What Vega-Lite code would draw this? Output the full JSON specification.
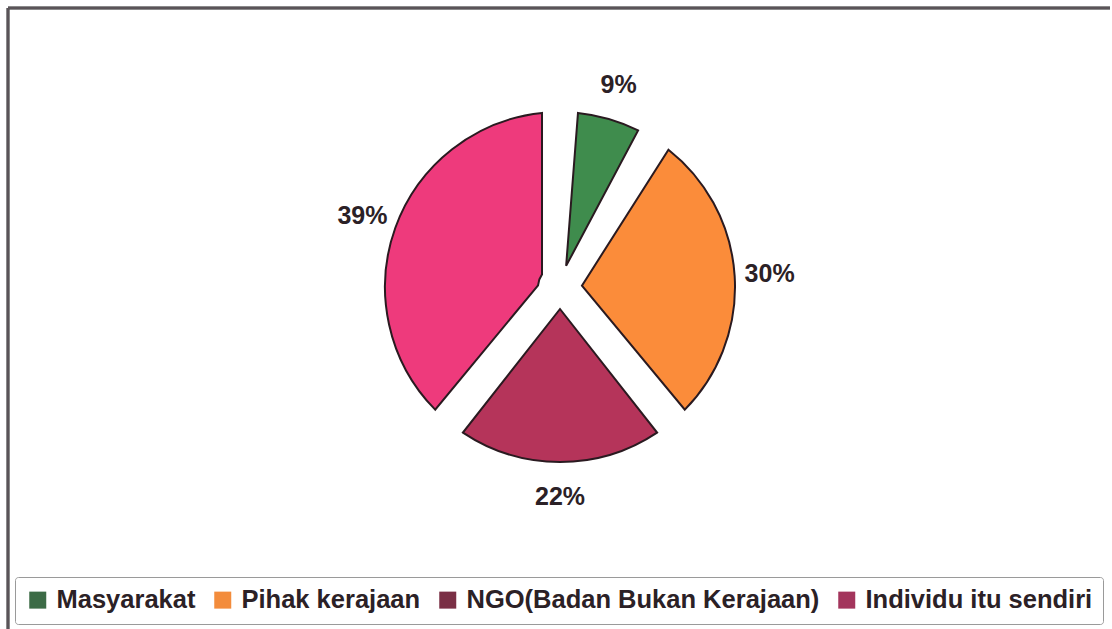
{
  "$schema": "https://vega.github.io/schema/vega-lite/v6.json",
  "width": 1104,
  "height": 558,
  "padding": {"left": 6, "top": 6, "right": 2, "bottom": 0},
  "background": "white",
  "config": {"view": {"stroke": null}},
  "data": {
    "values": [
      {"kategori": "Masyarakat", "nilai": 9, "label": "9%", "urutan": 1},
      {"kategori": "Pihak kerajaan", "nilai": 30, "label": "30%", "urutan": 2},
      {"kategori": "NGO(Badan Bukan Kerajaan)", "nilai": 22, "label": "22%", "urutan": 3},
      {"kategori": "Individu itu sendiri", "nilai": 39, "label": "39%", "urutan": 4}
    ]
  },
  "resolve": {"scale": {"color": "independent"}, "legend": {"color": "independent"}},
  "layer": [
    {
      "mark": {"type": "rule", "stroke": "#5a5458", "strokeWidth": 2.5},
      "encoding": {"x": {"value": 0}, "x2": {"value": 1102}, "y": {"value": 0}}
    },
    {
      "mark": {"type": "rule", "stroke": "#5a5458", "strokeWidth": 2.5},
      "encoding": {"x": {"value": 0}, "y": {"value": 0}, "y2": {"value": 623}}
    },
    {
      "mark": {"type": "arc", "outerRadius": 175, "innerRadius": 22, "padAngle": 0.2044, "stroke": "#2a1a20", "strokeWidth": 2},
      "encoding": {
        "theta": {"field": "nilai", "type": "quantitative", "stack": true},
        "order": {"field": "urutan", "type": "quantitative"},
        "color": {
          "field": "kategori",
          "type": "nominal",
          "sort": ["Masyarakat", "Pihak kerajaan", "NGO(Badan Bukan Kerajaan)", "Individu itu sendiri"],
          "scale": {
            "domain": ["Masyarakat", "Pihak kerajaan", "NGO(Badan Bukan Kerajaan)", "Individu itu sendiri"],
            "range": ["#3f8c4d", "#fb8c3a", "#b5345a", "#ee3a7c"]
          },
          "legend": null
        }
      }
    },
    {
      "mark": {"type": "arc", "outerRadius": 0, "innerRadius": 0},
      "encoding": {
        "theta": {"field": "nilai", "type": "quantitative", "stack": true},
        "order": {"field": "urutan", "type": "quantitative"},
        "color": {
          "field": "kategori",
          "type": "nominal",
          "sort": ["Masyarakat", "Pihak kerajaan", "NGO(Badan Bukan Kerajaan)", "Individu itu sendiri"],
          "scale": {
            "domain": ["Masyarakat", "Pihak kerajaan", "NGO(Badan Bukan Kerajaan)", "Individu itu sendiri"],
            "range": ["#3c6b46", "#f38c3c", "#7a2f45", "#a3355c"]
          },
          "legend": {
            "orient": "none",
            "legendX": 7,
            "legendY": 569,
            "direction": "horizontal",
            "title": null,
            "symbolType": "square",
            "symbolSize": 289,
            "symbolStrokeWidth": 0,
            "symbolOpacity": 1,
            "labelFont": "Liberation Sans",
            "labelFontWeight": "bold",
            "labelFontSize": 25.5,
            "labelColor": "#2b2126",
            "labelLimit": 1000,
            "labelOffset": 6,
            "columnPadding": 14,
            "strokeColor": "#9a9a9a",
            "cornerRadius": 3,
            "padding": 10
          }
        }
      }
    },
    {
      "mark": {"type": "text", "radius": 210, "font": "Liberation Sans", "fontWeight": "bold", "fontSize": 25},
      "encoding": {
        "theta": {"field": "nilai", "type": "quantitative", "stack": true},
        "order": {"field": "urutan", "type": "quantitative"},
        "text": {"field": "label"},
        "detail": {"field": "kategori"},
        "color": {"value": "#2b2126"}
      }
    }
  ]
}
